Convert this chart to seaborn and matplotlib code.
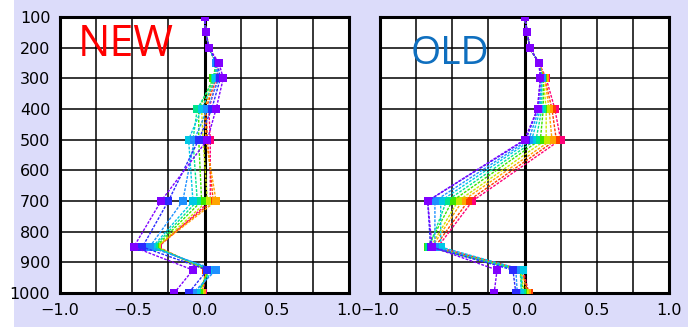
import numpy as np
import pandas as pd
import matplotlib
matplotlib.use("Agg")
import matplotlib.pyplot as plt
from matplotlib.patches import Rectangle
import seaborn as sns

# pressure levels (hPa) shared by both panels
levels = [100, 150, 200, 250, 300, 400, 500, 700, 850, 925, 1000]

# one profile per run, purple -> magenta
run_colors = ['#8000ff', '#2a2aff', '#1e90ff', '#00c8e6', '#00e68c',
              '#3ce600', '#c8e600', '#ffa500', '#ff3c00', '#ff0078']

new_values = [
    [0.00, 0.01, 0.03, 0.10, 0.13, 0.08, 0.02, -0.30, -0.49, -0.08, -0.21],
    [0.00, 0.01, 0.03, 0.09, 0.11, 0.05, -0.04, -0.25, -0.43, 0.02, -0.11],
    [0.00, 0.01, 0.03, 0.08, 0.10, 0.02, -0.07, -0.15, -0.38, 0.08, -0.08],
    [0.00, 0.01, 0.03, 0.08, 0.08, -0.02, -0.11, -0.08, -0.36, 0.06, -0.06],
    [0.00, 0.01, 0.03, 0.08, 0.07, -0.05, -0.08, -0.05, -0.35, 0.04, -0.05],
    [0.00, 0.01, 0.03, 0.08, 0.06, -0.04, -0.04, -0.02, -0.34, 0.03, -0.04],
    [0.00, 0.01, 0.03, 0.08, 0.07, -0.02, -0.01, 0.02, -0.33, 0.02, -0.03],
    [0.00, 0.01, 0.03, 0.08, 0.07, 0.00, 0.01, 0.08, -0.33, 0.02, -0.02],
    [0.00, 0.01, 0.03, 0.08, 0.08, 0.01, 0.02, 0.06, -0.33, 0.01, -0.02],
    [0.00, 0.01, 0.03, 0.09, 0.09, 0.03, 0.04, 0.04, -0.32, 0.01, -0.01],
]

old_values = [
    [0.00, 0.02, 0.035, 0.10, 0.11, 0.09, 0.00, -0.67, -0.64, -0.19, -0.21],
    [0.00, 0.02, 0.035, 0.10, 0.11, 0.09, 0.01, -0.67, -0.65, -0.08, -0.06],
    [0.00, 0.02, 0.035, 0.10, 0.12, 0.10, 0.03, -0.62, -0.62, -0.06, -0.05],
    [0.00, 0.02, 0.035, 0.10, 0.12, 0.11, 0.05, -0.58, -0.58, -0.01, -0.03],
    [0.00, 0.02, 0.035, 0.10, 0.12, 0.12, 0.08, -0.54, -0.66, -0.03, -0.02],
    [0.00, 0.02, 0.035, 0.10, 0.13, 0.13, 0.11, -0.50, -0.67, -0.03, -0.01],
    [0.00, 0.02, 0.035, 0.10, 0.13, 0.15, 0.15, -0.46, -0.65, -0.03, 0.00],
    [0.00, 0.02, 0.035, 0.10, 0.14, 0.17, 0.19, -0.43, -0.64, -0.02, 0.02],
    [0.00, 0.02, 0.035, 0.10, 0.14, 0.19, 0.22, -0.39, -0.62, -0.02, 0.03],
    [0.00, 0.02, 0.035, 0.10, 0.15, 0.21, 0.25, -0.36, -0.60, -0.01, 0.03],
]

x_ticks = [-1.0, -0.5, 0.0, 0.5, 1.0]
x_labels = ['\u22121.0', '\u22120.5', '0.0', '0.5', '1.0']
y_ticks = [100, 200, 300, 400, 500, 600, 700, 800, 900, 1000]


def to_frame(values):
    rows = []
    for i, run in enumerate(values):
        for lev, v in zip(levels, run):
            rows.append({'run': i, 'level': lev, 'value': v})
    return pd.DataFrame(rows)


sns.set_style('white')
plt.rcParams['font.family'] = ['DejaVu Sans']

fig = plt.figure(figsize=(6.98, 3.27), dpi=100)
fig.patch.set_facecolor('white')
fig.patches.append(Rectangle((14 / 698, 0), 674 / 698, 1, transform=fig.transFigure,
                             facecolor='#dcdcfa', edgecolor='none', zorder=-10))

ax_new = fig.add_axes([60 / 698, 34 / 327, 289 / 698, 276 / 327])
ax_old = fig.add_axes([380 / 698, 34 / 327, 289 / 698, 276 / 327])

# later runs drawn first so the purple profile sits on top
draw_order = list(range(len(run_colors)))[::-1]

for ax, values, show_y in [(ax_new, new_values, True), (ax_old, old_values, False)]:
    df = to_frame(values)
    ax.set_facecolor('white')
    ax.set_xlim(-1, 1)
    ax.set_ylim(1000, 100)
    ax.set_xticks(np.arange(-1, 1.01, 0.25), minor=True)
    ax.set_xticks(x_ticks)
    ax.set_xticklabels(x_labels, fontsize=11.5, color='black')
    ax.set_yticks(y_ticks)
    if show_y:
        ax.set_yticklabels([str(t) for t in y_ticks], fontsize=11.5, color='black')
    else:
        ax.set_yticklabels([])
    ax.grid(True, which='both', color='black', lw=1.1, zorder=0)
    ax.set_axisbelow(True)
    ax.tick_params(which='both', length=0, pad=7)
    ax.axvline(0, color='black', lw=2.2, zorder=1)
    for s in ax.spines.values():
        s.set_linewidth(2.2)
        s.set_color('black')
    sns.lineplot(data=df, x='value', y='level', hue='run', hue_order=draw_order,
                 palette=dict(zip(range(len(run_colors)), run_colors)),
                 sort=False, estimator=None, orient='y', marker='s',
                 markersize=5.5, markeredgewidth=0, linewidth=1.0,
                 linestyle=(0, (2, 1)), legend=False, ax=ax, zorder=3)
    ax.set_xlabel('')
    ax.set_ylabel('')

ax_new.text(0.06, 0.90, 'NEW', transform=ax_new.transAxes, color='#ff0000',
            fontsize=31, family='Open Sans', va='center', ha='left')
ax_old.text(0.105, 0.865, 'OLD', transform=ax_old.transAxes, color='#0f6fbf',
            fontsize=28, family='Open Sans', va='center', ha='left')

fig.savefig('out.png', dpi=100)
